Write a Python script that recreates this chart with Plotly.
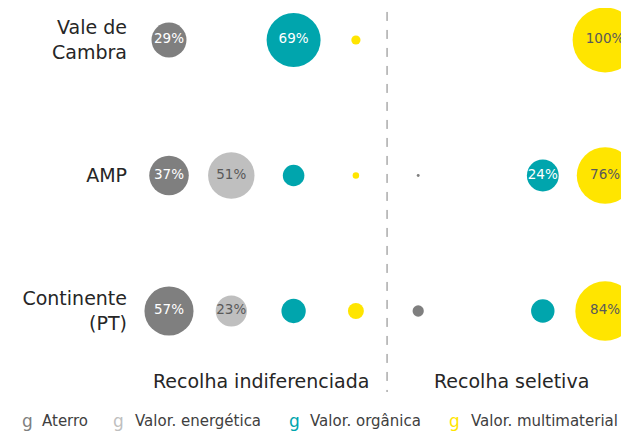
import numpy as np
import plotly.graph_objects as go

regioes = ['Vale de<br>Cambra', 'AMP', 'Continente<br>(PT)']
destinos = ['Aterro', 'Valor. energética', 'Valor. orgânica', 'Valor. multimaterial']
cores = ['#7f7f7f', '#bfbfbf', '#00a5ad', '#ffe500']
cor_texto = ['white', '#595959', 'white', '#595959']

# % por destino, [Vale de Cambra, AMP, Continente]
indif = {
    'Aterro': [29, 37, 57],
    'Valor. energética': [0, 51, 23],
    'Valor. orgânica': [69, 11, 14],
    'Valor. multimaterial': [2, 1, 6],
}
seletiva = {
    'Aterro': [0, 0.2, 3],
    'Valor. energética': [0, 0, 0],
    'Valor. orgânica': [0, 24, 13],
    'Valor. multimaterial': [100, 76, 84],
}
grupos = ['Recolha indiferenciada', 'Recolha seletiva']

# a página tem 8px de margem no body -> figura 621x424
W, H = 621, 424
L = 122
X0, DX = 161, 62.3      # px da coluna 0 e espaçamento
Y0, DY = 32, 135.5      # px da 1ª linha e espaçamento
yrow = [2, 1, 0]
max_d = 65
FONT = 'DejaVu Sans'


def diam(v):
    return max_d * np.sqrt(np.array(v, dtype=float) / 100)


def lbl(v):
    return [f'{x:g}%' if x >= 20 else '' for x in v]


def px2paper(px):
    return (px - L) / (W - L)


fig = go.Figure()
for i, d in enumerate(destinos):
    for g, dados in enumerate([indif, seletiva]):
        v = dados[d]
        fig.add_trace(go.Scatter(
            x=[i + 4 * g] * 3, y=yrow, mode='markers+text',
            marker=dict(size=diam(v), sizemode='diameter', color=cores[i],
                        line=dict(width=0), opacity=1),
            text=lbl(v), textposition='middle center',
            textfont=dict(family=FONT, size=13.5, color=cor_texto[i]),
            showlegend=False, hoverinfo='skip'))

fig.add_shape(type='line', x0=3.5, x1=3.5, y0=2.207, y1=-0.598,
              line=dict(color='#808080', width=1, dash='dash'))

annotations = []
for name, cx in zip(grupos, [1.477, 5.49]):
    annotations.append(dict(x=cx, y=-0.517, xref='x', yref='y', text=name,
                            showarrow=False, xanchor='center', yanchor='middle',
                            font=dict(family=FONT, size=19, color='#262626')))

leg_g = [12, 103, 279, 439]
leg_t = [32, 125, 300, 461]
for i, d in enumerate(destinos):
    annotations.append(dict(x=px2paper(leg_g[i]), y=1 - 413 / H, xref='paper', yref='paper',
                            text='g', showarrow=False, xanchor='left', yanchor='middle',
                            font=dict(family=FONT, size=17, color=cores[i])))
    annotations.append(dict(x=px2paper(leg_t[i]), y=1 - 413 / H, xref='paper', yref='paper',
                            text=d, showarrow=False, xanchor='left', yanchor='middle',
                            font=dict(family=FONT, size=15, color='#404040')))

fig.update_layout(
    width=W, height=H,
    margin=dict(l=L, r=0, t=0, b=0),
    plot_bgcolor='white', paper_bgcolor='white',
    xaxis=dict(range=[(L - X0) / DX, (W - X0) / DX], visible=False,
               showgrid=False, zeroline=False),
    yaxis=dict(range=[-(H - Y0 - 2 * DY) / DY, 2 + Y0 / DY], tickvals=yrow, ticktext=regioes,
               showgrid=False, zeroline=False, showline=False, ticks='',
               ticklabelstandoff=2,
               tickfont=dict(family=FONT, size=19, color='#262626')),
    annotations=annotations,
)

fig.write_html('out.html')
